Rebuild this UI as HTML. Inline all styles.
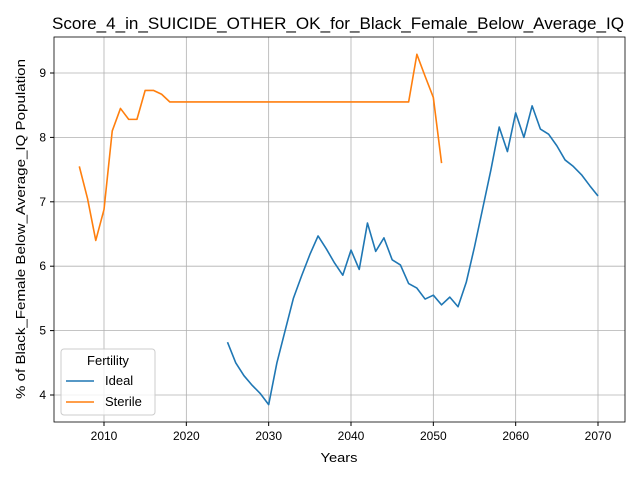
<!DOCTYPE html>
<html><head><meta charset="utf-8"><style>body{margin:0;background:#fff}svg{font-family:"Liberation Sans","DejaVu Sans",sans-serif}</style></head>
<body>
<svg id="c" width="640" height="480" xmlns="http://www.w3.org/2000/svg"></svg>
<script>
const idealYears=[];for(let y=2025;y<=2070;y++)idealYears.push(y);
const idealValues=[4.82,4.5,4.3,4.15,4.02,3.85,4.5,5.0,5.5,5.85,6.18,6.47,6.27,6.05,5.86,6.25,5.95,6.67,6.23,6.44,6.1,6.02,5.73,5.66,5.49,5.55,5.4,5.52,5.37,5.75,6.3,6.9,7.5,8.16,7.78,8.38,8.0,8.49,8.13,8.05,7.87,7.65,7.55,7.42,7.25,7.09];
const sterileYears=[];for(let y=2007;y<=2051;y++)sterileYears.push(y);
const sterileValues=[7.55,7.05,6.4,6.88,8.1,8.45,8.28,8.28,8.73,8.73,8.67,8.55,8.55,8.55,8.55,8.55,8.55,8.55,8.55,8.55,8.55,8.55,8.55,8.55,8.55,8.55,8.55,8.55,8.55,8.55,8.55,8.55,8.55,8.55,8.55,8.55,8.55,8.55,8.55,8.55,8.55,9.29,8.95,8.62,7.6];
const xTicks=[2010,2020,2030,2040,2050,2060,2070];
const yTicks=[4,5,6,7,8,9];
const L=54,R=625,T=37,B=422;
const xs=v=>104+(v-2010)*(598-104)/60;
const ys=v=>395-(v-4)*(395-73)/5;
const svg=document.getElementById('c');const NS='http://www.w3.org/2000/svg';
function el(t,a,p){const e=document.createElementNS(NS,t);for(const k in a)e.setAttribute(k,a[k]);(p||svg).appendChild(e);return e;}
let e;
e=el('text',{x:338,y:29,'text-anchor':'middle','font-size':17,textLength:572,lengthAdjust:'spacingAndGlyphs'});e.textContent='Score_4_in_SUICIDE_OTHER_OK_for_Black_Female_Below_Average_IQ';


xTicks.forEach(t=>{const x=xs(t);
e=el('line',{x1:x,x2:x,y1:T,y2:B,stroke:'#b0b0b0','stroke-width':0.8});


el('line',{x1:x,x2:x,y1:B,y2:B+4,stroke:'#000'});
e=el('text',{x:x,y:B+18,'text-anchor':'middle','font-size':12});e.textContent=t;

});
yTicks.forEach(t=>{const y=ys(t);
e=el('line',{x1:L,x2:R,y1:y,y2:y,stroke:'#b0b0b0','stroke-width':0.8});


el('line',{x1:L-4,x2:L,y1:y,y2:y,stroke:'#000'});
e=el('text',{x:L-8,y:y+4,'text-anchor':'end','font-size':12});e.textContent=t;

});
function line(xv,yv,c,n){e=el('polyline',{points:xv.map((x,i)=>xs(x)+','+ys(yv[i])).join(' '),fill:'none',stroke:c,'stroke-width':1.6,'stroke-linejoin':'round'});

}
line(idealYears,idealValues,'#1f77b4','ideal-line');
line(sterileYears,sterileValues,'#ff7f0e','sterile-line');
e=el('rect',{x:L,y:T,width:R-L,height:B-T,fill:'none',stroke:'#000','stroke-width':0.8});


e=el('text',{x:339,y:462,'text-anchor':'middle','font-size':13,textLength:37,lengthAdjust:'spacingAndGlyphs'});e.textContent='Years';


e=el('text',{x:0,y:0,'text-anchor':'middle','font-size':13,textLength:340,lengthAdjust:'spacingAndGlyphs',transform:'translate(25,229) rotate(-90)'});e.textContent='% of Black_Female Below_Average_IQ Population';


const g=el('g',{});


el('rect',{x:61,y:349,width:94,height:66,rx:3,fill:'#fff','fill-opacity':0.8,stroke:'#ccc'},g);
e=el('text',{x:108,y:365,'text-anchor':'middle','font-size':13},g);e.textContent='Fertility';
[['Ideal','#1f77b4',385],['Sterile','#ff7f0e',406]].forEach(([n,c,y])=>{
el('line',{x1:66,x2:94,y1:y-4,y2:y-4,stroke:c,'stroke-width':1.6},g);
e=el('text',{x:105,y:y,'font-size':13},g);e.textContent=n;

});
</script>
</body></html>
